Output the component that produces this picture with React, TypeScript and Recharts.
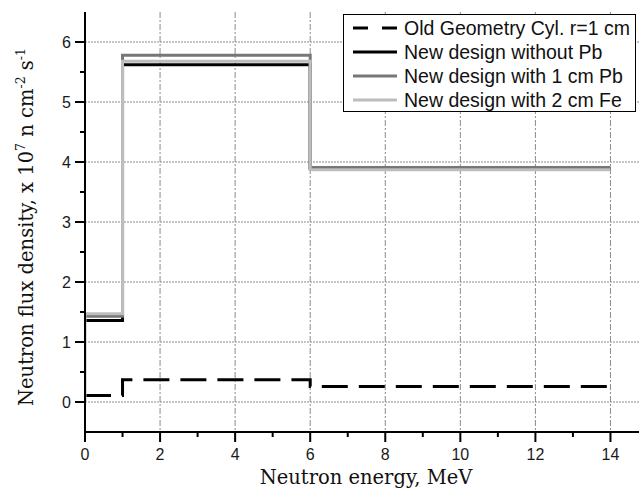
import { LineChart, Line, XAxis, YAxis, CartesianGrid, Legend, Label } from "recharts";

// Energy group edges (MeV) and flux level in each group (x 10^7 n cm^-2 s^-1)
const energyEdges = [0, 1, 6, 14];
const oldGeometry = [0.11, 0.37, 0.26];
const newWithoutPb = [1.36, 5.62, 3.89];
const newWith1cmPb = [1.43, 5.78, 3.91];
const newWith2cmFe = [1.47, 5.68, 3.87];

const seriesNames = [
  "Old Geometry Cyl. r=1 cm",
  "New design without Pb",
  "New design with 1 cm Pb",
  "New design with 2 cm Fe",
];

const xTicks = [0, 1, 2, 3, 4, 5, 6, 7, 8, 9, 10, 11, 12, 13, 14, 15];
const xGrid = [2, 4, 6, 8, 10, 12, 14];
const yTicks = [0, 0.5, 1, 1.5, 2, 2.5, 3, 3.5, 4, 4.5, 5, 5.5, 6];
const yGrid = [0, 1, 2, 3, 4, 5, 6];

// histogram levels -> points for a stepAfter line (last level held to the final edge)
const toSteps = (levels: number[]) => [
  ...levels.map((v, i) => ({ energy: energyEdges[i], flux: v })),
  { energy: energyEdges[levels.length], flux: levels[levels.length - 1] },
];

const series = [
  { name: seriesNames[0], data: toSteps(oldGeometry), color: "#000", dash: "26 11", legendDash: "15 14" },
  { name: seriesNames[1], data: toSteps(newWithoutPb), color: "#000" },
  { name: seriesNames[2], data: toSteps(newWith1cmPb), color: "#777" },
  // the Fe curve rises from zero at the origin
  { name: seriesNames[3], data: [{ energy: 0, flux: 0 }, ...toSteps(newWith2cmFe)], color: "#bdbdbd" },
];

const TICK_SIZE = 10;
const TICK_MARGIN = 4;
const tickFont = { fontFamily: "Liberation Sans, Arial, sans-serif", fontSize: 16, fill: "#1a1a1a" };

function YTick(props: any) {
  const { x, y, payload } = props;
  const axisX = x + TICK_SIZE + TICK_MARGIN;
  const major = Number.isInteger(payload.value);
  return (
    <g>
      <line x1={axisX} x2={axisX - (major ? 10 : 5)} y1={y} y2={y} stroke="#000" strokeWidth={2} />
      {major && (
        <text x={x} y={y} dy={6} textAnchor="end" {...tickFont}>
          {payload.value}
        </text>
      )}
    </g>
  );
}

function XTick(props: any) {
  const { x, y, payload } = props;
  const axisY = y - TICK_SIZE - TICK_MARGIN;
  const major = payload.value % 2 === 0;
  return (
    <g>
      <line x1={x} x2={x} y1={axisY} y2={axisY + (major ? 10 : 5)} stroke="#000" strokeWidth={2} />
      {major && (
        <text x={x} y={y} dy={14} textAnchor="middle" {...tickFont}>
          {payload.value}
        </text>
      )}
    </g>
  );
}

const serif = "DejaVu Serif, Liberation Serif, serif";

const YTitle = () => (
  <text transform="translate(33,227) rotate(-90)" textAnchor="middle" fontFamily={serif} fontSize={19.5} fill="#111">
    Neutron flux density, x 10
    <tspan dy={-8} fontSize={12.5}>7</tspan>
    <tspan dy={8}> n cm</tspan>
    <tspan dy={-8} fontSize={12.5}>-2</tspan>
    <tspan dy={8}> s</tspan>
    <tspan dy={-8} fontSize={12.5}>-1</tspan>
  </text>
);

const XTitle = () => (
  <text x={366} y={484} textAnchor="middle" fontFamily={serif} fontSize={19.5} fill="#111">
    Neutron energy, MeV
  </text>
);

const LegendBox = () => (
  <div
    style={{
      width: 293,
      height: 98,
      boxSizing: "border-box",
      border: "1.5px solid #000",
      background: "#fff",
      paddingTop: 1,
    }}
  >
    {series.map((s) => (
      <div key={s.name} style={{ display: "flex", alignItems: "center", height: 24 }}>
        <svg width={44} height={6} style={{ marginLeft: 9, marginRight: 7 }}>
          <line x1={0} x2={44} y1={3} y2={3} stroke={s.color} strokeWidth={3} strokeDasharray={s.legendDash} />
        </svg>
        <span
          style={{
            fontFamily: "Liberation Sans, Arial, sans-serif",
            fontSize: 19.5,
            lineHeight: "24px",
            color: "#111",
            whiteSpace: "nowrap",
          }}
        >
          {s.name}
        </span>
      </div>
    ))}
  </div>
);

export default function App() {
  return (
    <div
      style={{
        position: "fixed",
        left: 0,
        top: 0,
        width: 639,
        height: 490,
        overflow: "hidden",
        background: "#fff",
      }}
    >
      <LineChart width={660} height={490} margin={{ top: 12, right: 12, bottom: 0, left: 0 }}>
        <CartesianGrid horizontal={false} verticalValues={xGrid} stroke="#8a8a8a" strokeDasharray="6 2 2 2" />
        <CartesianGrid vertical={false} horizontalValues={yGrid} stroke="#8a8a8a" strokeDasharray="2 1" />
        <XAxis
          dataKey="energy"
          type="number"
          domain={[0, 15]}
          ticks={xTicks}
          interval={0}
          allowDataOverflow
          height={58}
          tickSize={TICK_SIZE}
          tickMargin={TICK_MARGIN}
          tickLine={false}
          tick={<XTick />}
          axisLine={{ stroke: "#000", strokeWidth: 2 }}
        >
          <Label content={() => <XTitle />} />
        </XAxis>
        <XAxis
          xAxisId="top"
          orientation="top"
          dataKey="energy"
          type="number"
          domain={[0, 15]}
          ticks={xGrid}
          height={0}
          tick={false}
          tickSize={3}
          tickLine={{ stroke: "#000", strokeWidth: 1.5 }}
          axisLine={{ stroke: "#000", strokeWidth: 2 }}
        />
        <YAxis
          type="number"
          domain={[-0.5, 6.5]}
          ticks={yTicks}
          interval={0}
          allowDataOverflow
          width={85}
          tickSize={TICK_SIZE}
          tickMargin={TICK_MARGIN}
          tickLine={false}
          tick={<YTick />}
          axisLine={{ stroke: "#000", strokeWidth: 2 }}
        >
          <Label content={() => <YTitle />} />
        </YAxis>
        {series.map((s) => (
          <Line
            key={s.name}
            name={s.name}
            data={s.data}
            dataKey="flux"
            type="stepAfter"
            stroke={s.color}
            strokeWidth={3}
            strokeDasharray={s.dash}
            dot={false}
            activeDot={false}
            isAnimationActive={false}
          />
        ))}
        <Legend
          layout="vertical"
          align="center"
          verticalAlign="middle"
          wrapperStyle={{ top: 14, left: 343, width: 293 }}
          content={() => <LegendBox />}
        />
      </LineChart>
    </div>
  );
}
